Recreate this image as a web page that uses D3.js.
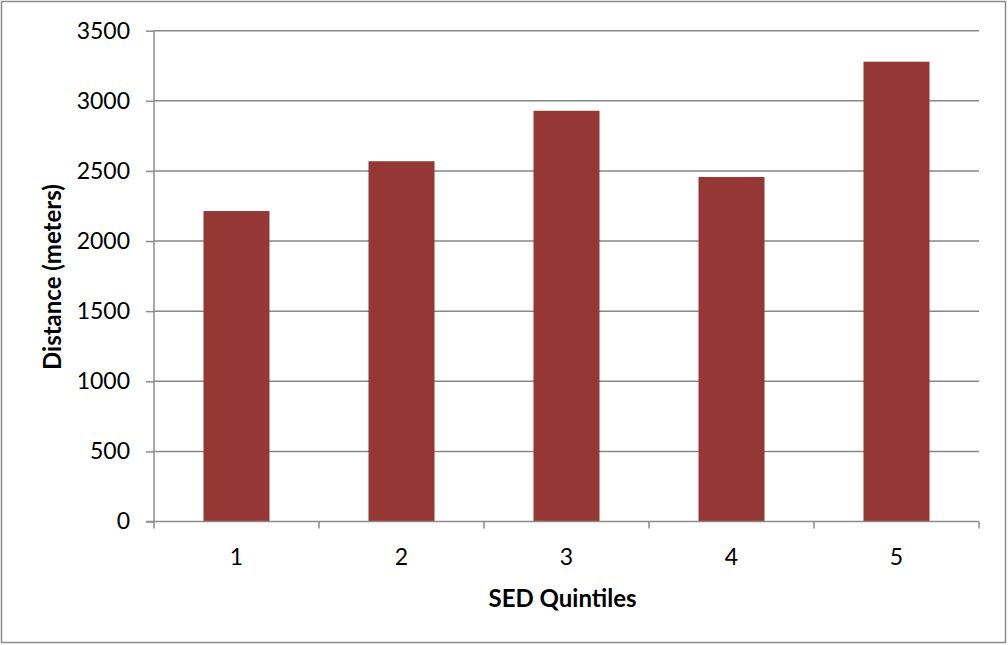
<!DOCTYPE html>
<html>
<head>
<meta charset="utf-8">
<script src="https://cdn.jsdelivr.net/npm/d3@7"></script>
<style>
  html, body { margin: 0; padding: 0; background: #fff; }
  svg { display: block; font-family: Lato, "Open Sans", sans-serif; }
</style>
</head>
<body>
<svg id="chart" width="1008" height="645"></svg>
<script>
// Quintile categories and mean distance per quintile
const categories = ["1", "2", "3", "4", "5"];
const distances = [2214, 2569, 2929, 2457, 3279];
const yTicks = [0, 500, 1000, 1500, 2000, 2500, 3000, 3500];

const svg = d3.select("#chart");
const W = 1008, H = 645;
const margin = { left: 154, right: 29, top: 30.7, bottom: 123.5 };
const plotW = W - margin.left - margin.right;
const plotH = H - margin.top - margin.bottom;

// outer chart frame
svg.append("rect")
  .attr("x", 1.5).attr("y", 1.5)
  .attr("width", W - 4).attr("height", H - 4)
  .attr("fill", "#fff")
  .attr("stroke", "#8c8c8c").attr("stroke-width", 1.5);

const g = svg.append("g").attr("transform", `translate(${margin.left},${margin.top})`);

const x = d3.scaleBand().domain(categories).range([0, plotW]).paddingInner(0.6).paddingOuter(0.3);
const xBand = d3.scaleBand().domain(categories).range([0, plotW]);
const y = d3.scaleLinear().domain([0, 3500]).range([plotH, 0]);

// horizontal gridlines
g.append("g").selectAll("line").data(yTicks.filter(d => d > 0)).join("line")
  .attr("x1", 0).attr("x2", plotW)
  .attr("y1", d => y(d)).attr("y2", d => y(d))
  .attr("stroke", "#878787").attr("stroke-width", 1.5);

// bars
g.append("g").selectAll("rect").data(distances).join("rect")
  .attr("x", (d, i) => x(categories[i]))
  .attr("width", x.bandwidth())
  .attr("y", d => y(d))
  .attr("height", d => plotH - y(d))
  .attr("fill", "#953735");

// y axis
const yAxis = g.append("g")
  .call(d3.axisLeft(y).tickValues(yTicks).tickSize(8).tickPadding(16).tickFormat(d3.format("d")));
yAxis.select(".domain").attr("stroke", "#8c8c8c").attr("stroke-width", 1.5).attr("d", `M0,0V${plotH}`);
yAxis.selectAll(".tick line").attr("stroke", "#8c8c8c").attr("stroke-width", 1.5);
yAxis.selectAll(".tick text").attr("fill", "#000").style("font-size", "23px").style("font-family", "Lato, sans-serif");

// x axis with ticks at category boundaries
const xg = g.append("g").attr("transform", `translate(0,${plotH})`);
xg.append("line").attr("x1", -8).attr("x2", plotW).attr("y1", 0).attr("y2", 0)
  .attr("stroke", "#8c8c8c").attr("stroke-width", 1.5);
const bounds = categories.map(c => xBand(c)).concat([plotW]);
xg.selectAll("line.tk").data(bounds).join("line").attr("class", "tk")
  .attr("x1", d => d).attr("x2", d => d).attr("y1", 0).attr("y2", 7)
  .attr("stroke", "#8c8c8c").attr("stroke-width", 1.5);
xg.selectAll("text").data(categories).join("text")
  .attr("x", d => xBand(d) + xBand.bandwidth() / 2)
  .attr("y", 43)
  .attr("text-anchor", "middle")
  .style("font-size", "23px")
  .attr("fill", "#000")
  .text(d => d);

// axis titles
svg.append("text")
  .attr("x", margin.left + plotW / 2 - 4).attr("y", 607)
  .attr("text-anchor", "middle")
  .style("font-size", "24px").style("font-weight", "bold")
  .text("SED Quintiles");

svg.append("text")
  .attr("transform", `translate(61,${margin.top + plotH / 2 + 1}) rotate(-90)`)
  .attr("text-anchor", "middle")
  .style("font-size", "24px").style("font-weight", "bold")
  .text("Distance (meters)");
</script>
</body>
</html>
